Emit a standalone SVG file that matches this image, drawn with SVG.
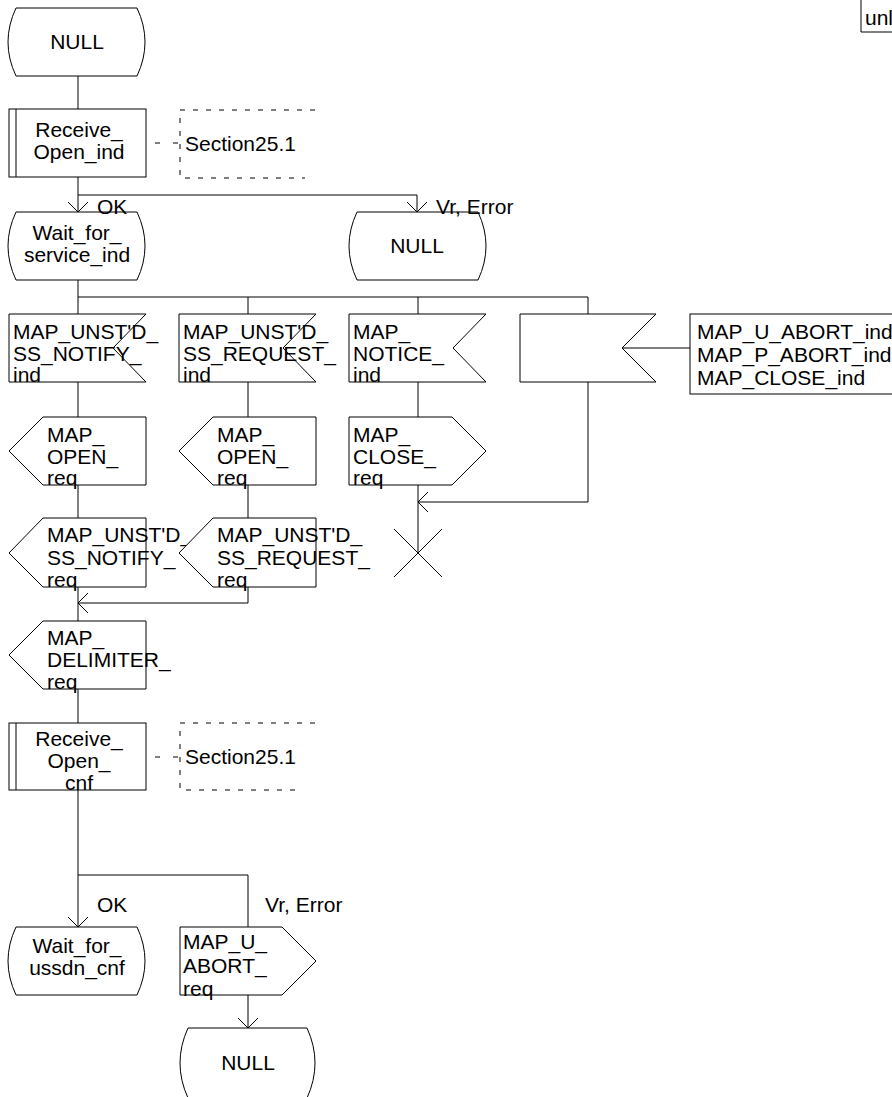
<svg xmlns="http://www.w3.org/2000/svg" width="892" height="1097" viewBox="0 0 892 1097">
<style>
.s{fill:#fff;stroke:#000;stroke-width:1}
.l{fill:none;stroke:#000;stroke-width:1}
.d{fill:none;stroke:#000;stroke-width:1;stroke-dasharray:5,8}
text{font-family:"Liberation Sans",Arial,sans-serif;font-size:21px;fill:#000}
.c{text-anchor:middle}
</style>
<defs>
<marker id="ah" viewBox="0 0 20 20" refX="10" refY="10" markerWidth="20" markerHeight="20" markerUnits="userSpaceOnUse" orient="auto">
<path d="M0,0 L10,10 L0,20" fill="none" stroke="#000" stroke-width="1"/>
</marker>
</defs>
<g id="unl">
<path class="l" d="M861,0 V32 H892"/>
<text x="865" y="25">unl</text>
</g>
<g id="null1">
<path class="s" d="M16,8 H137 Q153,42 137,76 H16 Q0,42 16,8 Z"/>
<text class="c" x="77" y="48.5">NULL</text>
</g>
<g id="receive_open_ind">
<rect class="s" x="9" y="109" width="137" height="68"/>
<path class="l" d="M16,109 V177"/>
<text class="c" x="79" y="137">Receive_</text>
<text class="c" x="79" y="159">Open_ind</text>
</g>
<g id="section1">
<path class="d" d="M315,110 H180 V178 H305"/>
<text x="185" y="151">Section25.1</text>
</g>
<g id="wait_for_service_ind">
<path class="s" d="M16,212 H137 Q153,246 137,280 H16 Q0,246 16,212 Z"/>
<text class="c" x="77" y="240">Wait_for_</text>
<text class="c" x="77" y="262">service_ind</text>
</g>
<g id="null2">
<path class="s" d="M357,212 H478 Q494,246 478,280 H357 Q341,246 357,212 Z"/>
<text class="c" x="417" y="252.5">NULL</text>
</g>
<g id="in_notify">
<path class="s" d="M9,314 H146 L113,348 L146,382 H9 Z"/>
<text x="13" y="339">MAP_UNST'D_</text>
<text x="13" y="361">SS_NOTIFY_</text>
<text x="13" y="382">ind</text>
</g>
<g id="in_request">
<path class="s" d="M179,314 H316 L283,348 L316,382 H179 Z"/>
<text x="183" y="339">MAP_UNST'D_</text>
<text x="183" y="361">SS_REQUEST_</text>
<text x="183" y="382">ind</text>
</g>
<g id="in_notice">
<path class="s" d="M349,314 H486 L453,348 L486,382 H349 Z"/>
<text x="353" y="339">MAP_</text>
<text x="353" y="361">NOTICE_</text>
<text x="353" y="382">ind</text>
</g>
<g id="in_abort">
<path class="s" d="M520,314 H656 L622,348 L656,382 H520 Z"/>
</g>
<g id="abort_list">
<rect class="s" x="690" y="314" width="230" height="80"/>
<text x="697" y="339">MAP_U_ABORT_ind</text>
<text x="697" y="362">MAP_P_ABORT_ind</text>
<text x="697" y="385">MAP_CLOSE_ind</text>
</g>
<g id="out_open1">
<path class="s" d="M43,417 H146 V485 H43 L9,451 Z"/>
<text x="47" y="442">MAP_</text>
<text x="47" y="464">OPEN_</text>
<text x="47" y="485">req</text>
</g>
<g id="out_open2">
<path class="s" d="M213,417 H316 V485 H213 L179,451 Z"/>
<text x="217" y="442">MAP_</text>
<text x="217" y="464">OPEN_</text>
<text x="217" y="485">req</text>
</g>
<g id="out_close">
<path class="s" d="M349,417 H452 L486,451 L452,485 H349 Z"/>
<text x="353" y="442">MAP_</text>
<text x="353" y="464">CLOSE_</text>
<text x="353" y="485">req</text>
</g>
<g id="stop">
<path class="l" d="M394,529 L442,577 M442,529 L394,577"/>
</g>
<g id="out_notify">
<path class="s" d="M43,518 H146 V587 H43 L9,553 Z"/>
<text x="47" y="542">MAP_UNST'D_</text>
<text x="47" y="565">SS_NOTIFY_</text>
<text x="47" y="587">req</text>
</g>
<g id="out_request">
<path class="s" d="M213,518 H316 V587 H213 L179,553 Z"/>
<text x="217" y="542">MAP_UNST'D_</text>
<text x="217" y="565">SS_REQUEST_</text>
<text x="217" y="587">req</text>
</g>
<g id="out_delimiter">
<path class="s" d="M43,621 H146 V689 H43 L9,655 Z"/>
<text x="47" y="645">MAP_</text>
<text x="47" y="667">DELIMITER_</text>
<text x="47" y="689">req</text>
</g>
<g id="receive_open_cnf">
<rect class="s" x="9" y="723" width="137" height="67"/>
<path class="l" d="M16,723 V790"/>
<text class="c" x="79" y="746">Receive_</text>
<text class="c" x="79" y="768">Open_</text>
<text class="c" x="79" y="790">cnf</text>
</g>
<g id="section2">
<path class="d" d="M315,723 H180 V790 H300"/>
<text x="185" y="764">Section25.1</text>
</g>
<g id="wait_for_ussdn_cnf">
<path class="s" d="M16,927 H137 Q153,961 137,995 H16 Q0,961 16,927 Z"/>
<text class="c" x="77" y="953">Wait_for_</text>
<text class="c" x="77" y="975">ussdn_cnf</text>
</g>
<g id="out_u_abort">
<path class="s" d="M180,927 H282 L316,961 L282,995 H180 Z"/>
<text x="183" y="949">MAP_U_</text>
<text x="183" y="973">ABORT_</text>
<text x="183" y="996">req</text>
</g>
<g id="null3">
<path class="s" d="M188,1028 H307 Q323,1063 307,1098 H188 Q172,1063 188,1028 Z"/>
<text class="c" x="248" y="1070">NULL</text>
</g>
<g id="connectors">
<path class="l" d="M78,76 V109"/>
<path class="l" d="M78,177 V212" marker-end="url(#ah)"/>
<path class="l" d="M78,195 H417 V212" marker-end="url(#ah)"/>
<path class="l" d="M78,280 V314 M78,297 H588 V314 M248,297 V314 M418,297 V314"/>
<path class="l" d="M78,382 V417 M248,382 V417 M418,382 V417"/>
<path class="l" d="M78,485 V518 M248,485 V518"/>
<path class="l" d="M78,587 V621"/>
<path class="l" d="M248,587 V603 H78" marker-end="url(#ah)"/>
<path class="l" d="M418,485 V553"/>
<path class="l" d="M588,382 V502 H418" marker-end="url(#ah)"/>
<path class="l" d="M622,348 H690"/>
<path class="l" d="M78,689 V723"/>
<path class="l" d="M78,790 V927" marker-end="url(#ah)"/>
<path class="l" d="M78,875 H248 V927"/>
<path class="l" d="M248,995 V1028" marker-end="url(#ah)"/>
<path class="l" d="M155,143 h5 M173,143 h5"/>
<path class="l" d="M155,757 h5 M173,757 h5"/>
<text x="97" y="214">OK</text>
<text x="436" y="214">Vr, Error</text>
<text x="97" y="912">OK</text>
<text x="265" y="912">Vr, Error</text>
</g>
</svg>
